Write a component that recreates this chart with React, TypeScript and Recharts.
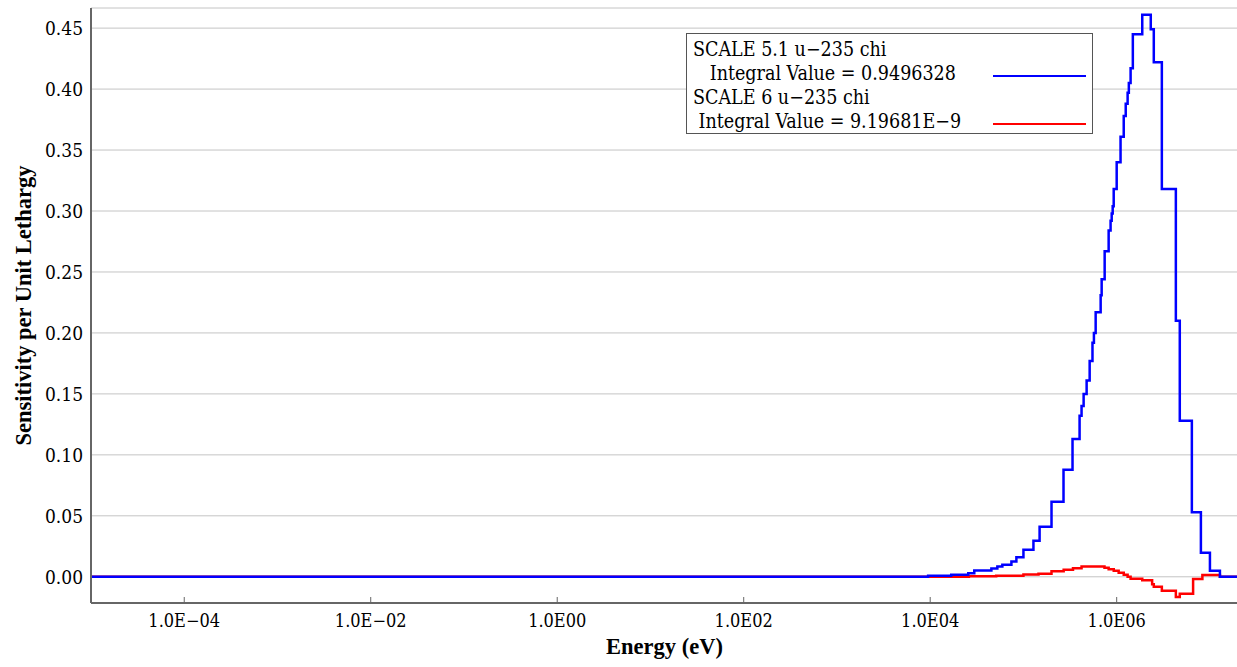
import React from "react";
import { LineChart, Line, XAxis, YAxis, CartesianGrid, Legend } from "recharts";

// SCALE 5.1 u-235 chi: lower group energy (eV) and sensitivity per unit lethargy
const scale51Energy = [
  1e-5, 9.5e3, 1.68e4, 2.56e4, 2.97e4, 4.53e4, 5.25e4, 5.94e4, 7.43e4, 8.4e4,
  1.0e5, 1.28e5, 1.49e5, 2.0e5, 2.69e5, 3.36e5, 4.0e5, 4.2e5, 4.42e5, 4.76e5,
  5.13e5, 5.5e5, 5.7e5, 5.95e5, 6.73e5, 6.9e5, 7.43e5, 8.2e5, 8.6e5, 8.84e5,
  9.06e5, 9.29e5, 1.0e6, 1.1e6, 1.19e6, 1.25e6, 1.31e6, 1.35e6, 1.41e6, 1.49e6,
  1.88e6, 2.32e6, 2.5e6, 3.05e6, 4.31e6, 4.75e6, 6.4e6, 8.0e6, 1.0e7, 1.28e7,
  2e7,
];
const scale51Value = [
  0, 0.0009, 0.0016, 0.003, 0.0052, 0.0068, 0.0084, 0.0098, 0.0125, 0.016,
  0.0221, 0.0295, 0.041, 0.0615, 0.0877, 0.113, 0.132, 0.14, 0.15, 0.161,
  0.177, 0.192, 0.2, 0.217, 0.231, 0.244, 0.267, 0.284, 0.292, 0.298,
  0.304, 0.318, 0.34, 0.361, 0.378, 0.388, 0.397, 0.405, 0.417, 0.445,
  0.461, 0.449, 0.422, 0.318, 0.21, 0.128, 0.053, 0.0197, 0.0049, 0,
  0,
];

// SCALE 6 u-235 chi
const scale6Energy = [
  1e-5, 2.6e4, 5.1e4, 1.0e5, 1.45e5, 2.0e5, 2.7e5, 3.4e5, 4.2e5, 7.4e5,
  8.2e5, 9.3e5, 1.05e6, 1.19e6, 1.31e6, 1.41e6, 1.88e6, 2.4e6, 2.5e6, 3.05e6,
  4.31e6, 4.75e6, 6.6e6, 8.3e6, 1.28e7, 2e7,
];
const scale6Value = [
  0, 0.0004, 0.0008, 0.0019, 0.0025, 0.0045, 0.0057, 0.007, 0.0085, 0.0074,
  0.0061, 0.0049, 0.0033, 0.0016, 0, -0.0016, -0.0029, -0.0061, -0.0082, -0.0115,
  -0.0166, -0.014, -0.0019, 0.0014, 0, 0,
];

const energyTicks = [1e-4, 1e-2, 1, 1e2, 1e4, 1e6];
const sensitivityTicks = [0, 0.05, 0.1, 0.15, 0.2, 0.25, 0.3, 0.35, 0.4, 0.45];
const seriesNames = ["SCALE 5.1 u\u2212235 chi", "SCALE 6 u\u2212235 chi"];
const integralLabels = ["   Integral Value = 0.9496328", " Integral Value = 9.19681E\u22129"];
const seriesColors = ["#0000ff", "#ff0000"];

const scale51Data = scale51Energy.map((x, i) => ({ x, y: scale51Value[i] }));
const scale6Data = scale6Energy.map((x, i) => ({ x, y: scale6Value[i] }));

const TICK_FONT = "'DejaVu Serif Condensed', 'DejaVu Serif', serif";
const LABEL_FONT = "'Liberation Serif', 'Times New Roman', serif";
const AXIS_COLOR = "#666";

const formatEnergy = (v: number) => {
  const exp = Math.round(Math.log10(v));
  const sign = exp < 0 ? "\u2212" : "";
  return `1.0E${sign}${String(Math.abs(exp)).padStart(2, "0")}`;
};

const BottomTick = ({ x, y, payload }: any) => (
  <g>
    <line x1={x} x2={x} y1={y} y2={y - 6} stroke={AXIS_COLOR} strokeWidth={1} />
    <text x={x} y={y + 24} textAnchor="middle" fontFamily={TICK_FONT} fontSize={18} fill="#000">
      {formatEnergy(payload.value)}
    </text>
  </g>
);

const TopTick = ({ x, y }: any) => (
  <line x1={x} x2={x} y1={y} y2={y + 6} stroke={AXIS_COLOR} strokeWidth={1} />
);

const RightTick = ({ x, y }: any) => (
  <line x1={x} x2={x - 5} y1={y} y2={y} stroke="#000" strokeWidth={1} />
);

const LegendBox = () => (
  <div
    style={{
      width: 405,
      height: 99,
      border: "1px solid #555",
      background: "#fff",
      position: "relative",
      fontFamily: TICK_FONT,
      fontSize: 19.5,
      color: "#000",
      whiteSpace: "pre",
    }}
  >
    {[0, 1].map((i) => (
      <React.Fragment key={i}>
        <div style={{ position: "absolute", left: 6, top: 4 + i * 48, lineHeight: "24px" }}>
          {seriesNames[i]}
        </div>
        <div style={{ position: "absolute", left: 6, top: 28 + i * 48, lineHeight: "24px" }}>
          {integralLabels[i]}
        </div>
        <div
          style={{
            position: "absolute",
            left: 306,
            top: 41 + i * 48,
            width: 93,
            height: 2,
            background: seriesColors[i],
          }}
        />
      </React.Fragment>
    ))}
  </div>
);

export default function App() {
  return (
    <div
      style={{
        position: "absolute",
        left: 0,
        top: 0,
        width: 1237,
        height: 667,
        overflow: "hidden",
        background: "#fff",
      }}
    >
      <LineChart width={1240} height={667} margin={{ top: 8, right: 2, left: 0, bottom: 0 }}>
        <CartesianGrid vertical={false} stroke="#c4c4c4" strokeWidth={1} />
        <XAxis
          dataKey="x"
          type="number"
          scale="log"
          domain={[1e-5, 2e7]}
          allowDataOverflow
          ticks={energyTicks}
          interval={0}
          height={64}
          tickSize={0}
          tickMargin={0}
          tickLine={false}
          tick={<BottomTick />}
          axisLine={{ stroke: AXIS_COLOR, strokeWidth: 2 }}
          label={{
            content: ({ viewBox }: any) => (
              <text
                x={viewBox.x + viewBox.width / 2}
                y={viewBox.y + 51}
                textAnchor="middle"
                fontFamily={LABEL_FONT}
                fontWeight="bold"
                fontSize={22.5}
                fill="#000"
              >
                Energy (eV)
              </text>
            ),
          }}
        />
        <XAxis
          xAxisId="top"
          orientation="top"
          dataKey="x"
          type="number"
          scale="log"
          domain={[1e-5, 2e7]}
          allowDataOverflow
          ticks={energyTicks}
          interval={0}
          height={0}
          tickSize={0}
          tickLine={false}
          tick={<TopTick />}
          axisLine={{ stroke: "#999", strokeWidth: 1 }}
        />
        <YAxis
          type="number"
          domain={[-0.0215, 0.4665]}
          allowDataOverflow
          ticks={sensitivityTicks}
          interval={0}
          width={91}
          tickSize={0}
          tickMargin={8}
          tickLine={false}
          tickFormatter={(v: number) => v.toFixed(2)}
          tick={{ fontFamily: TICK_FONT, fontSize: 19, fill: "#000" }}
          axisLine={{ stroke: AXIS_COLOR, strokeWidth: 2 }}
          label={{
            content: ({ viewBox }: any) => {
              const cx = viewBox.x + 23;
              const cy = viewBox.y + viewBox.height / 2;
              return (
                <text
                  x={cx}
                  y={cy}
                  transform={`rotate(-90 ${cx} ${cy})`}
                  textAnchor="middle"
                  dominantBaseline="central"
                  fontFamily={LABEL_FONT}
                  fontWeight="bold"
                  fontSize={22.5}
                  fill="#000"
                >
                  Sensitivity per Unit Lethargy
                </text>
              );
            },
          }}
        />
        <YAxis
          yAxisId="right"
          orientation="right"
          type="number"
          domain={[-0.0215, 0.4665]}
          allowDataOverflow
          ticks={sensitivityTicks}
          interval={0}
          width={0}
          tickSize={0}
          tickLine={false}
          tick={<RightTick />}
          axisLine={false}
        />
        <Legend
          layout="vertical"
          align="center"
          verticalAlign="middle"
          content={<LegendBox />}
          wrapperStyle={{ left: 686, top: 33, width: 407, height: 101 }}
        />
        <Line
          data={scale6Data}
          dataKey="y"
          type="stepAfter"
          stroke={seriesColors[1]}
          strokeWidth={2.5}
          dot={false}
          isAnimationActive={false}
          name={seriesNames[1]}
        />
        <Line
          data={scale51Data}
          dataKey="y"
          type="stepAfter"
          stroke={seriesColors[0]}
          strokeWidth={2.5}
          dot={false}
          isAnimationActive={false}
          name={seriesNames[0]}
        />
      </LineChart>
    </div>
  );
}
